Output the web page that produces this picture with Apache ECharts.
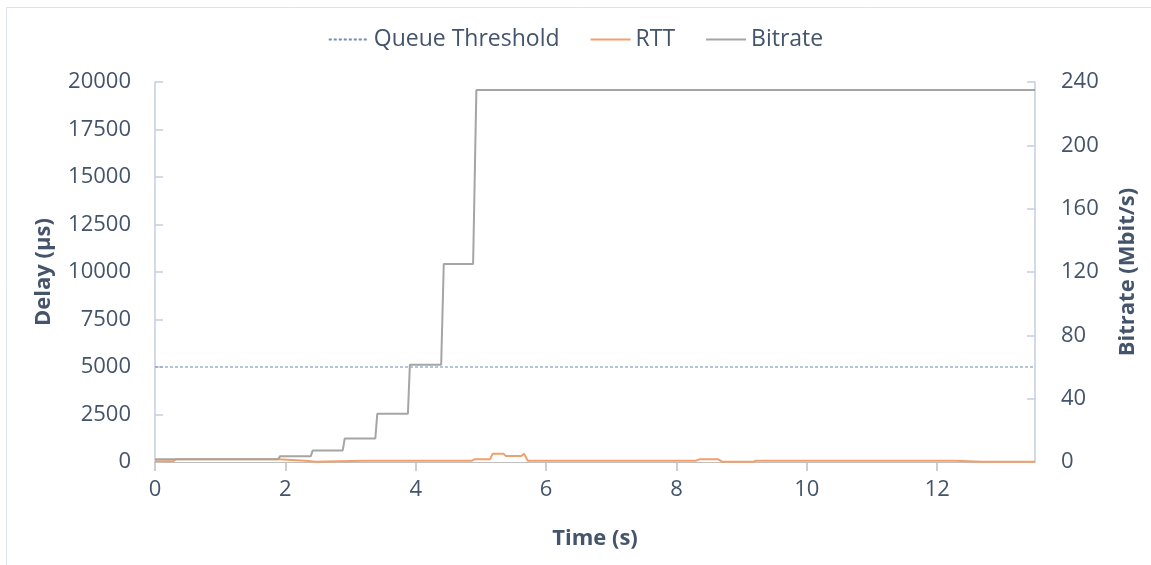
<!DOCTYPE html>
<html><head><meta charset="utf-8">
<script src="https://cdn.jsdelivr.net/npm/echarts@6/dist/echarts.min.js"></script>
<style>html,body{margin:0;padding:0;background:#fff}#c{width:1151px;height:565px}</style>
</head><body><div id="c"></div>
<script>
// Bitrate (Mbit/s) vs time (s)
var bitrateTime = [0, 1.89, 1.92, 2.39, 2.42, 2.88, 2.91, 3.38, 3.41, 3.88, 3.91, 4.39, 4.43, 4.88, 4.93, 13.5];
var bitrateVals = [1.8, 1.8, 3.7, 3.7, 7.3, 7.3, 14.8, 14.8, 30.5, 30.5, 61.5, 61.5, 125, 125, 235, 235];
// RTT (µs) vs time (s)
var rttTime = [0, 0.28, 0.32, 1.89, 1.92, 2.31, 2.34, 2.46, 2.49, 3.2, 3.22, 3.25, 4.86, 4.9, 5.14, 5.18, 5.35, 5.38, 5.62, 5.66, 5.72, 6.73, 6.76, 6.79, 8.3, 8.35, 8.64, 8.7, 9.18, 9.22, 12.28, 12.31, 12.68, 12.7, 12.72, 13.5];
var rttVals = [40, 40, 140, 140, 70, 70, 15, 15, 70, 70, 40, 70, 70, 140, 140, 440, 430, 320, 320, 440, 70, 70, 30, 70, 70, 140, 140, 15, 15, 70, 70, 15, 15, 60, 15, 15];
// Queue threshold (µs)
var thresholdTime = [0, 13.5];
var thresholdVals = [5000, 5000];

var xMin = 0, xMax = 13.5, xInterval = 2;
var delayMax = 20000, delayInterval = 2500;
var rateMax = 240, rateInterval = 40;

function zip(a, b) { return a.map(function (v, i) { return [v, b[i]]; }); }
function plain(v) { return String(v); }

var txt = '#44546A';
var font = 'Open Sans';
var chart = echarts.init(document.getElementById('c'));
chart.setOption({
  animation: false,
  textStyle: { fontFamily: font },
  graphic: [{ type: 'rect', shape: { x: 6.5, y: 7.5, width: 1300, height: 700 }, style: { fill: 'none', stroke: '#DCE3EE', lineWidth: 1 }, silent: true }],
  legend: {
    top: 23, left: 'center', itemWidth: 40, itemHeight: 12, itemGap: 30,
    itemStyle: { opacity: 0 },
    textStyle: { color: txt, fontSize: 23, fontFamily: font },
    data: ['Queue Threshold', 'RTT', 'Bitrate']
  },
  grid: { left: 155, right: 116, top: 82, bottom: 103 },
  xAxis: {
    type: 'value', min: xMin, max: xMax, interval: xInterval,
    name: 'Time (s)', nameLocation: 'middle', nameGap: 66,
    nameTextStyle: { color: txt, fontSize: 22, fontWeight: 'bold', fontFamily: font },
    axisLine: { show: true, lineStyle: { color: '#BFBFBF', width: 1 } },
    axisTick: { show: true, length: 9, lineStyle: { color: '#BFBFBF', width: 1.5 } },
    axisLabel: { color: txt, fontSize: 22, margin: 17, showMaxLabel: false, fontFamily: font, formatter: plain },
    splitLine: { show: false }
  },
  yAxis: [{
    type: 'value', min: 0, max: delayMax, interval: delayInterval, position: 'left',
    name: 'Delay (µs)', nameLocation: 'middle', nameGap: 100,
    nameTextStyle: { color: txt, fontSize: 22, fontWeight: 'bold', fontFamily: font },
    axisLine: { show: true, lineStyle: { color: '#C3CEDD', width: 1.5 } },
    axisTick: { show: true, inside: true, length: 8, lineStyle: { color: '#C3CEDD', width: 1.5 } },
    axisLabel: { color: txt, fontSize: 22, margin: 24, fontFamily: font, formatter: plain },
    splitLine: { show: false }
  }, {
    type: 'value', min: 0, max: rateMax, interval: rateInterval, position: 'right',
    name: 'Bitrate (Mbit/s)', nameLocation: 'middle', nameGap: 82, nameRotate: 90,
    nameTextStyle: { color: txt, fontSize: 22, fontWeight: 'bold', fontFamily: font },
    axisLine: { show: true, lineStyle: { color: '#C3CEDD', width: 1.5 } },
    axisTick: { show: true, inside: true, length: 8, lineStyle: { color: '#C3CEDD', width: 1.5 } },
    axisLabel: { color: txt, fontSize: 22, margin: 26, fontFamily: font, formatter: plain },
    splitLine: { show: false }
  }],
  series: [{
    name: 'Queue Threshold', type: 'line', yAxisIndex: 0, symbol: 'none',
    data: zip(thresholdTime, thresholdVals),
    lineStyle: { color: '#6E8EB4', width: 1, type: [3, 2] },
    itemStyle: { color: '#6E8EB4' }
  }, {
    name: 'RTT', type: 'line', yAxisIndex: 0, symbol: 'none',
    data: zip(rttTime, rttVals),
    lineStyle: { color: '#F2A06A', width: 2 },
    itemStyle: { color: '#F2A06A' }
  }, {
    name: 'Bitrate', type: 'line', yAxisIndex: 1, symbol: 'none',
    data: zip(bitrateTime, bitrateVals),
    lineStyle: { color: '#A5A5A5', width: 2 },
    itemStyle: { color: '#A5A5A5' }
  }]
});
</script></body></html>
